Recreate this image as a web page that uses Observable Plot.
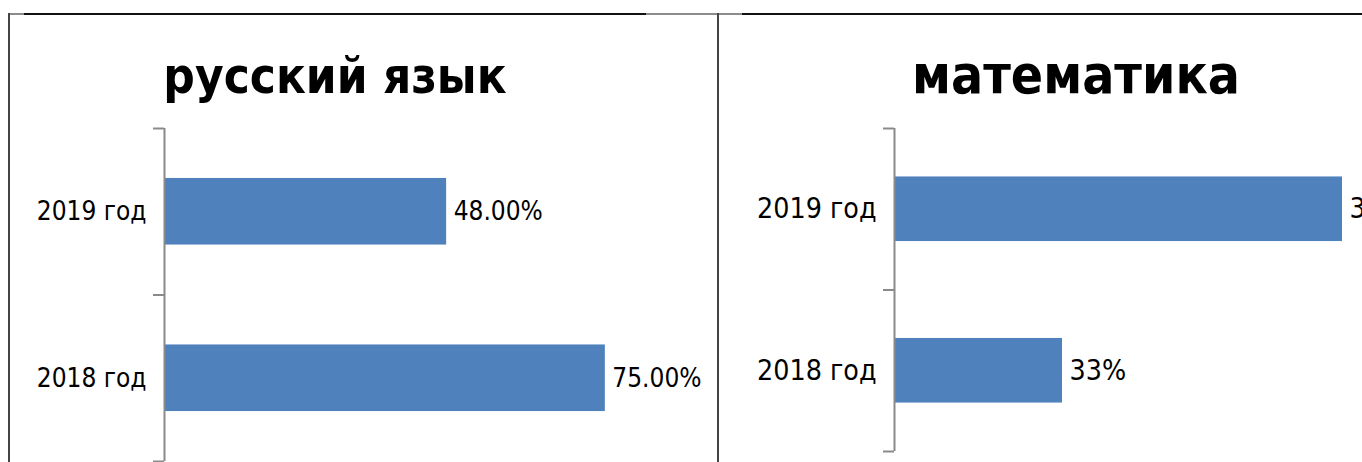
<!DOCTYPE html>
<html>
<head>
<meta charset="utf-8">
<script src="https://cdn.jsdelivr.net/npm/d3@7"></script>
<script src="https://cdn.jsdelivr.net/npm/@observablehq/plot@0.6"></script>
<style>
  html, body { margin: 0; padding: 0; background: white; overflow: hidden; }
  #wrap { position: relative; width: 1362px; height: 462px; overflow: hidden; font-family: "DejaVu Sans Condensed", "DejaVu Sans", sans-serif; }
  #wrap > svg, #wrap > figure { position: absolute; left: 0; top: 0; margin: 0; }
  .title { position: absolute; font-family: "DejaVu Sans Condensed", "DejaVu Sans", sans-serif; font-weight: bold; color: #000; white-space: nowrap; transform: translateX(-50%); line-height: 1; }
  .line { position: absolute; }
</style>
</head>
<body>
<div id="wrap">
  <div class="line" style="left:8px; top:13px; width:1354px; height:2px; background:#111;"></div>
  <div class="line" style="left:8px; top:13px; width:16px; height:2px; background:#8c8c8c;"></div>
  <div class="line" style="left:646px; top:13px; width:96px; height:2px; background:#8c8c8c;"></div>
  <div class="line" style="left:8px; top:13px; width:2px; height:449px; background:#444;"></div>
  <div class="line" style="left:717px; top:13px; width:2px; height:449px; background:#444;"></div>
</div>
<script>
// ---- data ----
const years = ["2019 год", "2018 год"];
const titles = ["русский язык", "математика"];
const rusValues = [0.48, 0.75];
const rusLabels = ["48.00%", "75.00%"];
const mathValues = [0.38, 0.33];
const mathLabels = ["38%", "33%"];

const blue = "#4f81bd";
const axisGray = "#8a8a8a";
const fontFam = "'DejaVu Sans Condensed', 'DejaVu Sans', sans-serif";

function panel({values, labels, xDomain, xRange, yRange, fontSize, transparent}) {
  const rows = years.map((year, i) => ({year, i, value: values[i], label: labels[i]}));
  return Plot.plot({
    width: 1362,
    height: 462,
    marginLeft: xRange[0],
    marginTop: yRange[0],
    marginBottom: 462 - yRange[1],
    style: {fontFamily: fontFam, fontSize: fontSize + "px", color: "#000", background: transparent ? "transparent" : "white", overflow: "hidden"},
    x: {domain: xDomain, range: xRange, axis: null},
    y: {domain: [0, years.length], range: yRange, axis: null},
    marks: [
      Plot.rectX(rows, {x1: () => xDomain[0], x2: "value", y1: d => d.i + 0.3, y2: d => d.i + 0.7, fill: blue}),
      Plot.ruleX([xDomain[0]], {y1: 0, y2: years.length, stroke: axisGray, strokeWidth: 2}),
      Plot.axisY({ticks: d3.range(years.length + 1), tickSize: 11, tickFormat: () => "", stroke: axisGray, strokeWidth: 2}),
      Plot.axisY({ticks: years.map((_, i) => i + 0.5), tickSize: 0, tickPadding: 18, tickFormat: v => years[Math.floor(v)], fill: "#000", fontSize}),
      Plot.text(rows, {x: "value", y: d => d.i + 0.5, text: "label", textAnchor: "start", dx: 7, fill: "#000", fontSize})
    ]
  });
}

const wrap = document.getElementById("wrap");
const left = panel({values: rusValues, labels: rusLabels, xDomain: [0, 0.9], xRange: [164, 693], yRange: [128, 461], fontSize: 26, transparent: false});
const right = panel({values: mathValues, labels: mathLabels, xDomain: [0.30, 0.40], xRange: [894, 1454], yRange: [128, 451], fontSize: 28.3, transparent: true});
wrap.insertBefore(left, wrap.firstChild);
wrap.insertBefore(right, left.nextSibling);

[[titles[0], 335, 49, 93], [titles[1], 1076, 53, 93]].forEach(([t, cx, size, baseline]) => {
  const d = document.createElement("div");
  d.className = "title";
  d.textContent = t;
  d.style.left = cx + "px";
  d.style.fontSize = size + "px";
  d.style.top = (baseline - 0.846 * size) + "px";
  wrap.appendChild(d);
});
</script>
</body>
</html>
